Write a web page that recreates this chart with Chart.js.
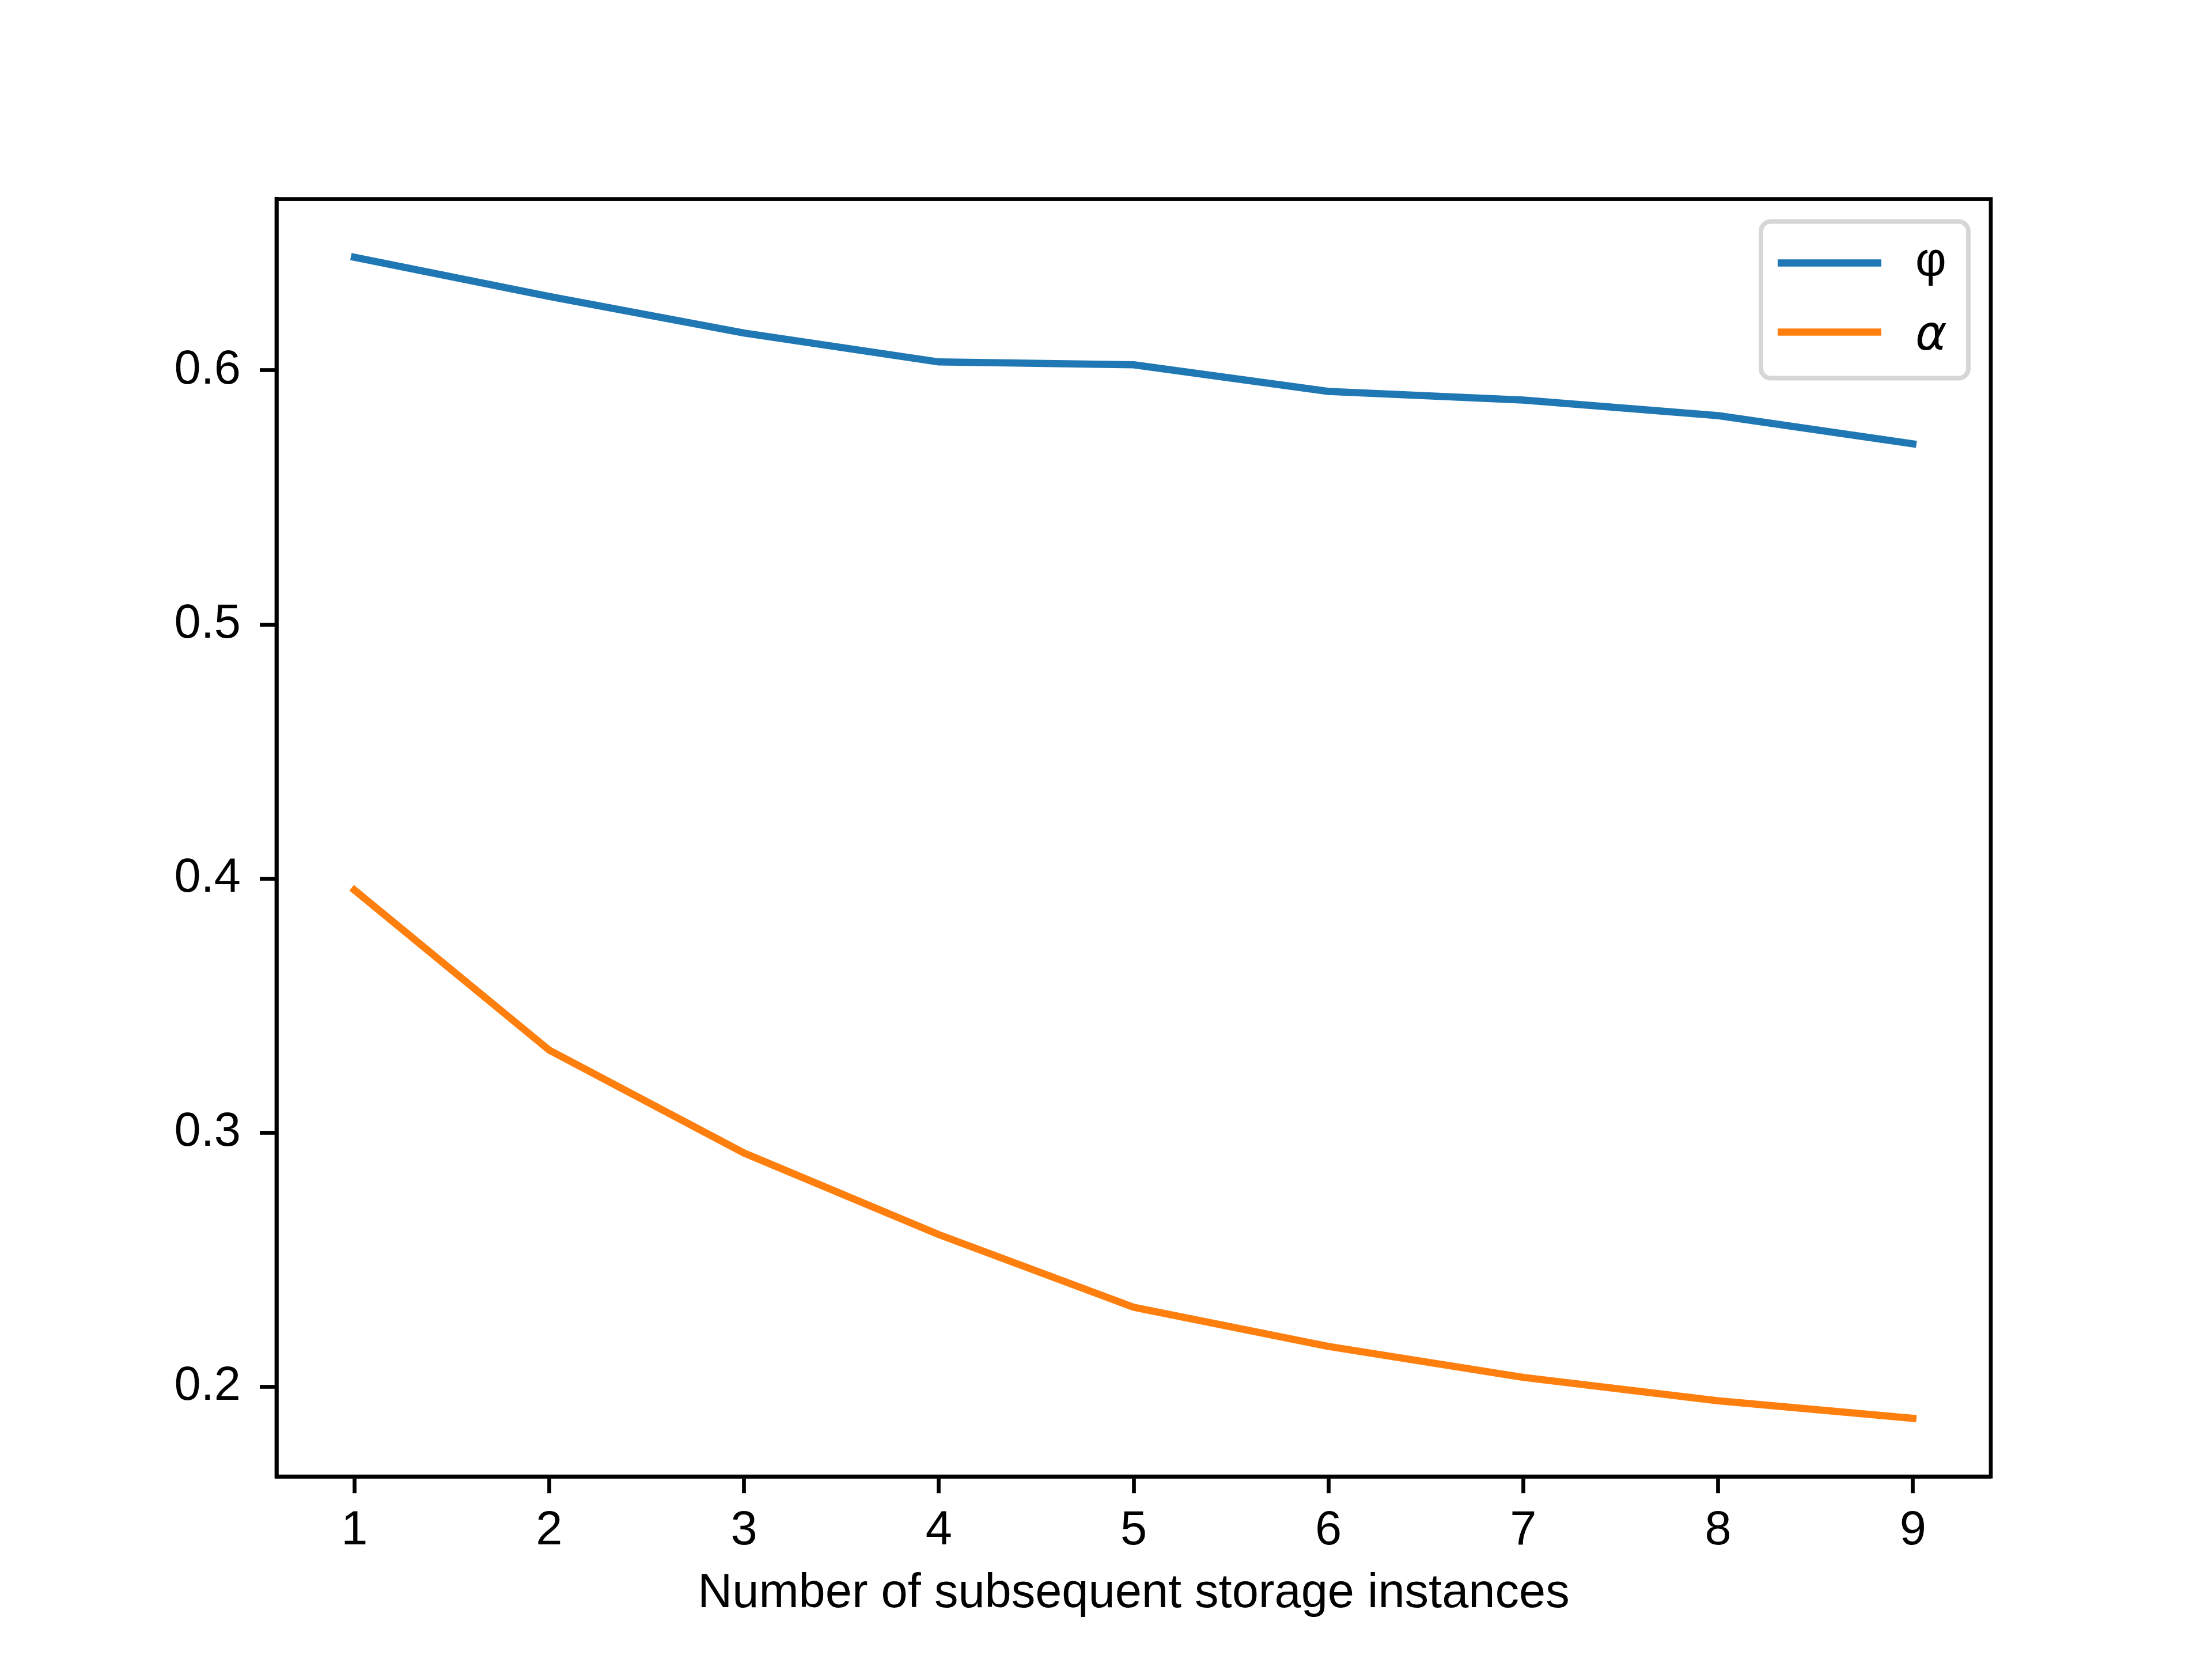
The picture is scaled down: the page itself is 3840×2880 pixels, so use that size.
<!DOCTYPE html>
<html lang="en">
<head>
<meta charset="UTF-8">
<title>Subsequent storage instances</title>
<style>
    html, body { margin: 0; padding: 0; background: #fff; overflow: hidden; }
    canvas { display: block; }
</style>
</head>
<body>
<canvas id="chart" width="3840" height="2880"></canvas>

<script src="https://cdn.jsdelivr.net/npm/chart.js"></script>
<script>
    // values
    const instances = [1, 2, 3, 4, 5, 6, 7, 8, 9];
    const phiValues = [0.6445, 0.6291, 0.6147, 0.6033, 0.6022, 0.5917, 0.5883, 0.5822, 0.5711];
    const alphaValues = [0.3955, 0.3325, 0.2920, 0.2599, 0.2313, 0.2159, 0.2037, 0.1945, 0.1876];
    const yTickValues = [0.2, 0.3, 0.4, 0.5, 0.6];
    const seriesLabels = ['φ', 'α'];
    const xTitle = 'Number of subsequent storage instances';

    const FONT = "'Liberation Sans', Arial, sans-serif";
    const LW = 6.7;   // spine / tick width

    Chart.defaults.font.family = FONT;
    Chart.defaults.font.size = 83;
    Chart.defaults.color = '#000';

    // box around the plot area (matplotlib spines)
    const framePlugin = {
        id: 'frame',
        afterDatasetsDraw(chart) {
            const { ctx, chartArea: a } = chart;
            ctx.save();
            ctx.strokeStyle = '#000';
            ctx.lineWidth = LW;
            ctx.strokeRect(a.left, a.top, a.right - a.left, a.bottom - a.top);
            ctx.restore();
        }
    };

    // matplotlib-style legend in the upper right corner
    const legendPlugin = {
        id: 'mplLegend',
        afterDraw(chart) {
            const { ctx, chartArea: a } = chart;
            const w = 360, h = 272;
            const x = a.right - 39 - w, y = a.top + 39;
            ctx.save();
            ctx.beginPath();
            ctx.roundRect(x, y, w, h, 17);
            ctx.fillStyle = 'rgba(255,255,255,0.8)';
            ctx.fill();
            ctx.strokeStyle = '#d6d6d6';
            ctx.lineWidth = 8;
            ctx.stroke();

            chart.data.datasets.forEach((ds, i) => {
                const ly = y + 72 + i * 120;
                ctx.beginPath();
                ctx.moveTo(x + 29, ly);
                ctx.lineTo(x + 209, ly);
                ctx.strokeStyle = ds.borderColor;
                ctx.lineWidth = 12.5;
                ctx.lineCap = 'butt';
                ctx.stroke();
                ctx.fillStyle = '#000';
                ctx.textBaseline = 'middle';
                ctx.textAlign = 'left';
                ctx.font = ds.italicLabel ? "italic 83px 'DejaVu Sans'" : '83px ' + FONT;
                ctx.fillText(ds.label, x + 268, ds.italicLabel ? ly + 9 : ly);
            });
            ctx.restore();
        }
    };

    new Chart(document.getElementById('chart'), {
        type: 'line',
        data: {
            datasets: [{
                label: seriesLabels[0],
                data: instances.map((x, i) => ({ x: x, y: phiValues[i] })),
                borderColor: '#1f77b4',
                italicLabel: false
            }, {
                label: seriesLabels[1],
                data: instances.map((x, i) => ({ x: x, y: alphaValues[i] })),
                borderColor: '#ff7f0e',
                italicLabel: true
            }]
        },
        options: {
            responsive: false,
            animation: false,
            devicePixelRatio: 1,
            layout: { padding: { left: 0, top: 345.6, right: 384, bottom: 0 } },
            elements: {
                line: { borderWidth: 12.5, tension: 0, borderCapStyle: 'square', borderJoinStyle: 'round', fill: false },
                point: { radius: 0, hoverRadius: 0 }
            },
            plugins: {
                legend: { display: false },
                tooltip: { enabled: false }
            },
            scales: {
                x: {
                    type: 'linear',
                    min: 0.6,
                    max: 9.4,
                    afterBuildTicks: s => { s.ticks = instances.map(v => ({ value: v })); },
                    afterFit: s => { s.height = 316.8; },
                    grid: { drawOnChartArea: false, drawTicks: true, tickLength: 29, tickWidth: LW, tickColor: '#000' },
                    border: { display: true, color: '#000', width: LW },
                    ticks: { padding: 16, maxRotation: 0, callback: v => String(v) },
                    title: { display: true, text: xTitle, font: { size: 83 }, padding: { top: 0, bottom: 63 } }
                },
                y: {
                    type: 'linear',
                    min: 0.1647,
                    max: 0.6674,
                    afterBuildTicks: s => { s.ticks = yTickValues.map(v => ({ value: v })); },
                    afterFit: s => { s.width = 480; },
                    grid: { drawOnChartArea: false, drawTicks: true, tickLength: 29, tickWidth: LW, tickColor: '#000' },
                    border: { display: true, color: '#000', width: LW },
                    ticks: { padding: 33, callback: v => v.toFixed(1) }
                }
            }
        },
        plugins: [framePlugin, legendPlugin]
    });
</script>
</body>
</html>
